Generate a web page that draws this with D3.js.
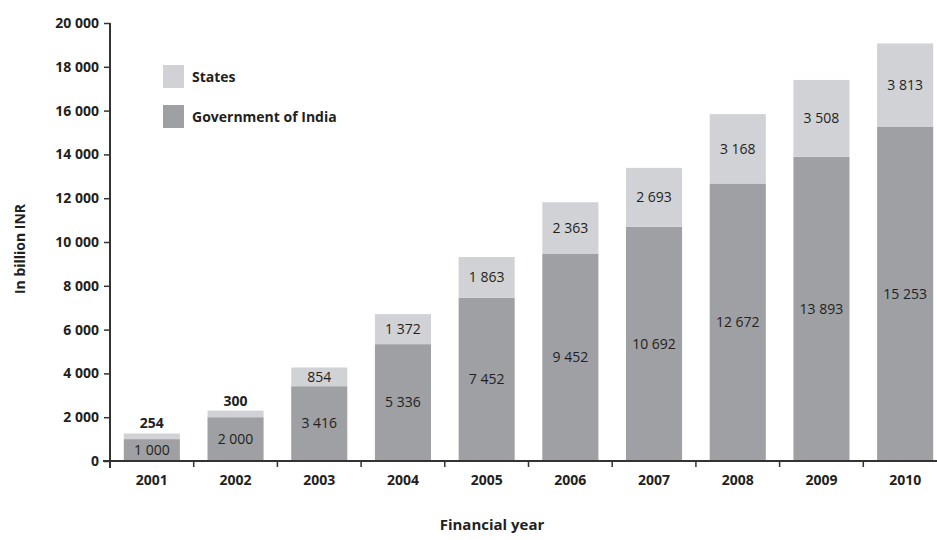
<!DOCTYPE html>
<html>
<head>
<meta charset="utf-8">
<script src="https://cdn.jsdelivr.net/npm/d3@7"></script>
<style>
  body { margin: 0; background: #fff; }
  svg { font-family: "Open Sans", sans-serif; }
</style>
</head>
<body>
<svg id="chart" width="937" height="540"></svg>
<script>
var years = ['2001', '2002', '2003', '2004', '2005', '2006', '2007', '2008', '2009', '2010'];
var govIndia = [1000, 2000, 3416, 5336, 7452, 9452, 10692, 12672, 13893, 15253];
var states = [254, 300, 854, 1372, 1863, 2363, 2693, 3168, 3508, 3813];
var yTicks = [0, 2000, 4000, 6000, 8000, 10000, 12000, 14000, 16000, 18000, 20000];

var colGov = '#9fa0a4', colStates = '#d1d2d6', ink = '#231f20';
var fmt = function(d) { return d3.format(',')(d).replace(/,/g, ' '); };

var svg = d3.select('#chart');
var x = d3.scaleBand().domain(years).range([110, 947]).paddingInner(0.33).paddingOuter(0.165);
var y = d3.scaleLinear().domain([0, 20000]).range([461, 23]);
var band = x.step();

// bars
var g = svg.append('g');
years.forEach(function(yr, i) {
    var g0 = govIndia[i], s0 = states[i];
    g.append('rect').attr('x', x(yr)).attr('width', x.bandwidth())
        .attr('y', y(g0)).attr('height', y(0) - y(g0)).attr('fill', colGov);
    g.append('rect').attr('x', x(yr)).attr('width', x.bandwidth())
        .attr('y', y(g0 + s0)).attr('height', y(g0) - y(g0 + s0)).attr('fill', colStates);

    var cx = x(yr) + x.bandwidth() / 2;
    g.append('text').attr('x', cx).attr('y', (y(0) + y(g0)) / 2)
        .attr('dy', '0.35em').attr('text-anchor', 'middle')
        .attr('font-size', 14).attr('fill', ink).text(fmt(g0));
    var inside = (y(g0) - y(g0 + s0)) > 16;
    g.append('text').attr('x', cx)
        .attr('y', inside ? (y(g0) + y(g0 + s0)) / 2 : y(g0 + s0) - 10)
        .attr('dy', '0.35em').attr('text-anchor', 'middle')
        .attr('font-size', 14).attr('font-weight', inside ? 400 : 700)
        .attr('fill', ink).text(fmt(s0));
});

// y axis
var yAxis = d3.axisLeft(y).tickValues(yTicks).tickFormat(fmt).tickSize(6).tickPadding(5);
var $y = svg.append('g').attr('transform', 'translate(110,0)').call(yAxis);
$y.select('.domain').attr('d', 'M0,' + y(20000) + 'V468').attr('stroke', '#333').attr('stroke-width', 2);
$y.selectAll('.tick line').attr('stroke', '#333').attr('stroke-width', 1.5);
$y.selectAll('.tick text').attr('font-size', 14).attr('font-weight', 700)
    .attr('fill', ink).attr('font-family', '"Open Sans", sans-serif');

// x axis
var xAxis = d3.axisBottom(x).tickSize(0).tickPadding(14);
var $x = svg.append('g').attr('transform', 'translate(0,' + y(0) + ')').call(xAxis);
$x.select('.domain').attr('d', 'M103,0H937').attr('stroke', '#333').attr('stroke-width', 2);
$x.selectAll('.tick text').attr('font-size', 14).attr('font-weight', 700)
    .attr('fill', ink).attr('font-family', '"Open Sans", sans-serif');
// ticks between bands
$x.selectAll('.sep').data(years.slice(1)).enter().append('line')
    .attr('x1', function(d) { return x(d) - x.step() * x.paddingInner() / 2; })
    .attr('x2', function(d) { return x(d) - x.step() * x.paddingInner() / 2; })
    .attr('y1', 0).attr('y2', 6).attr('stroke', '#333').attr('stroke-width', 1.5);

// axis titles
svg.append('text').attr('x', 492).attr('y', 530).attr('text-anchor', 'middle')
    .attr('font-size', 15).attr('font-weight', 700).attr('fill', ink).text('Financial year');
svg.append('text').attr('transform', 'translate(25,249) rotate(-90)').attr('text-anchor', 'middle')
    .attr('font-size', 14).attr('font-weight', 700).attr('fill', ink).text('In billion INR');

// legend
var legend = [{name: 'States', color: colStates, y: 65}, {name: 'Government of India', color: colGov, y: 105}];
var lg = svg.append('g');
legend.forEach(function(d) {
    lg.append('rect').attr('x', 163).attr('y', d.y).attr('width', 21).attr('height', 23).attr('fill', d.color);
    lg.append('text').attr('x', 192).attr('y', d.y + 12).attr('dy', '0.35em')
        .attr('font-size', 14).attr('font-weight', 700).attr('fill', ink).text(d.name);
});
</script>
</body>
</html>
